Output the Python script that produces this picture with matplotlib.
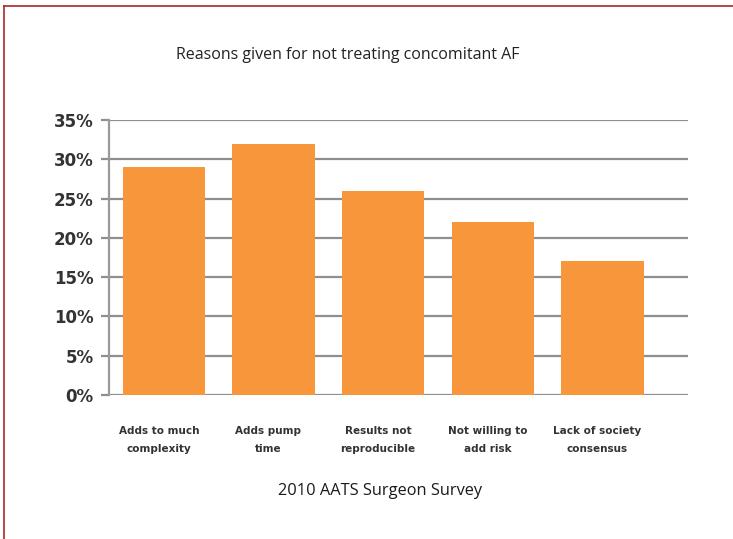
import matplotlib
matplotlib.use("Agg")
import matplotlib.pyplot as plt
import matplotlib.transforms as mtransforms
from matplotlib.lines import Line2D

categories = ["Adds to much\ncomplexity", "Adds pump\ntime", "Results not\nreproducible",
              "Not willing to\nadd risk", "Lack of society\nconsensus"]
values = [29, 32, 26, 22, 17]
yticks = [0, 5, 10, 15, 20, 25, 30, 35]
ytick_labels = ["0%", "5%", "10%", "15%", "20%", "25%", "30%", "35%"]

W, H = 733, 539
fig = plt.figure(figsize=(W / 100, H / 100), dpi=100)
fig.patch.set_facecolor("white")

ax = fig.add_axes([109 / W, 1 - 395 / H, (688 - 109) / W, (395 - 120) / H])
x = list(range(len(values)))
ax.bar(x, values, width=0.75, color="#F7963A", zorder=3)

ax.set_ylim(0, 35)
ax.set_xlim(-0.5, 4.78)
ax.set_yticks(yticks)
ax.set_yticklabels(ytick_labels, fontsize=12, fontweight="bold", color="#333333",
                   family="DejaVu Sans")
ax.yaxis.grid(True, color="#8f8f8f", linewidth=1.6, zorder=0)
ax.tick_params(axis="y", length=6, width=1.6, color="#8f8f8f", pad=5)
ax.set_xticks(x)
ax.set_xticklabels(categories, fontsize=7.5, fontweight="bold", color="#333333",
                   linespacing=2.0)
ax.tick_params(axis="x", length=0, pad=22)
shift = mtransforms.ScaledTranslation(-5 / 100, 0, fig.dpi_scale_trans)
for lbl in ax.get_xticklabels():
    lbl.set_transform(lbl.get_transform() + shift)
for s in ["top", "right", "bottom"]:
    ax.spines[s].set_visible(False)
ax.spines["left"].set_color("#9a9a9a")
ax.spines["left"].set_linewidth(1.6)

narrow = ["Liberation Sans Narrow", "Open Sans", "DejaVu Sans"]
fig.text(348 / W, 1 - 55 / H, "Reasons given for not treating concomitant AF",
         ha="center", va="center", fontsize=11.5, color="#222222", family=narrow)
fig.text(380 / W, 1 - 491 / H, "2010 AATS Surgeon Survey",
         ha="center", va="center", fontsize=11.8, color="#1a1a1a", family=narrow)

# thin frame on the top and left edges
fig.add_artist(Line2D([4 / W, 1], [1 - 6 / H, 1 - 6 / H], color="#A52A2A", linewidth=1.2))
fig.add_artist(Line2D([4 / W, 4 / W], [0, 1 - 6 / H], color="#A52A2A", linewidth=1.2))

fig.savefig("out.png", dpi=100)
